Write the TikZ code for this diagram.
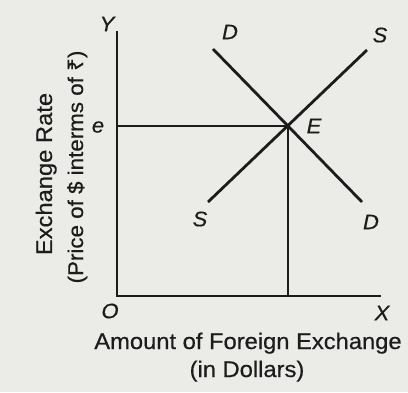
\documentclass[tikz,border=0pt]{standalone}
\usepackage{fontspec}
\setmainfont{Liberation Sans}[FakeStretch=1.05, FakeBold=0.5]
\newfontfamily\rupeefont{Noto Sans}[FakeStretch=1.05, FakeBold=0.5]
\usepackage{xcolor}
\usepackage{tikz}
\usetikzlibrary{calc}

\definecolor{paper}{RGB}{235,235,232}
\definecolor{ink}{RGB}{28,28,28}

\begin{document}
\begin{tikzpicture}[x=1pt, y=-1pt,
        axis/.style={draw=ink, line width=2.4pt},
        curve/.style={draw=ink, line width=2.8pt},
        guide/.style={draw=ink, line width=1.6pt},
        tag/.style={font=\fontsize{21}{21}\selectfont\itshape, text=ink, inner sep=0pt},
        title/.style={font=\fontsize{22.6}{27}\selectfont, text=ink, anchor=base, inner sep=0pt},
        subtitle/.style={title, font=\fontsize{21.3}{25}\selectfont}
    ]
        \fill[paper] (0,0) rectangle (408,392);
        \useasboundingbox (0,0) rectangle (408,392);

        \coordinate (O) at (117,296);
        \coordinate (ytop) at (117,31);
        \coordinate (xend) at (381,296);
        \coordinate (d1) at (213,49);
        \coordinate (d2) at (362,202);
        \coordinate (s1) at (208,202);
        \coordinate (s2) at (367,50);
        \coordinate (E) at (intersection of d1--d2 and s1--s2);
        \coordinate (eax) at (O |- E);
        \coordinate (qax) at (E |- O);

        \draw[axis] (ytop) -- (O) -- (xend);
        \draw[guide] (eax) -- (E) -- (qax);
        \draw[curve] (d1) -- (d2);
        \draw[curve] (s1) -- (s2);

        \node[tag] (ylab) at (107,24) {Y};
        \node[tag] (xlab) at (382,313) {X};
        \node[tag] (olab) at (110,311) {O};
        \node[tag] (elab) at (98,127) {e};
        \node[tag] (Elab) at (314,126) {E};
        \node[tag] (dtop) at (230,32) {D};
        \node[tag] (dbot) at (371,222) {D};
        \node[tag] (stop) at (380,35) {S};
        \node[tag] (sbot) at (200,219) {S};

        % axis titles, one node per line
        \node[title] (xtitle) at (248,349) {Amount of Foreign Exchange};
        \node[title] (xunit) at (247,377) {(in Dollars)};
        \node[title, rotate=90] (ytitle) at (52,174) {Exchange Rate};
        \node[subtitle, rotate=90] (yunit) at (83,167) {(Price of \$ interms of {\rupeefont ₹})};
    \end{tikzpicture}
\end{document}
